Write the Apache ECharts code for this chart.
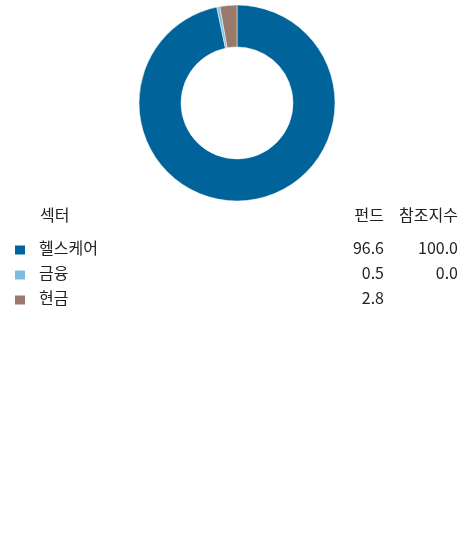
<!DOCTYPE html>
<html>
<head>
<meta charset="utf-8">
<script src="https://cdn.jsdelivr.net/npm/echarts@6/dist/echarts.min.js"></script>
<style>
  html, body { margin: 0; padding: 0; background: #fff; }
  #chart { width: 476px; height: 542px; }
</style>
</head>
<body>
<div id="chart"></div>
<script>
// Sector allocation: fund vs. reference index
const sectors = ['헬스케어', '금융', '현금'];
const fundWeights = [96.6, 0.5, 2.8];
const indexWeights = [100.0, 0.0, null];
const sectorColors = ['#00639a', '#7dbde0', '#98796a'];
const headers = ['섹터', '펀드', '참조지수'];

const FONT = "'Noto Sans CJK KR', 'Noto Sans', sans-serif";
const TEXT = '#222';
const FS = 16;

const fmt = v => (v === null || v === undefined) ? '' : v.toFixed(1);

const cell = extra => Object.assign({
  fontFamily: FONT, fontSize: FS, color: TEXT, lineHeight: 17, padding: [0, 0, 4, 0]
}, extra);

const chart = echarts.init(document.getElementById('chart'), null, { renderer: 'canvas' });

chart.setOption({
  animation: false,
  color: sectorColors,
  legend: {
    orient: 'vertical',
    left: 15,
    top: 240,
    padding: 0,
    itemWidth: 10,
    itemHeight: 9,
    itemGap: 5,
    icon: 'rect',
    selectedMode: false,
    itemStyle: { borderWidth: 0 },
    data: sectors,
    formatter: name => {
      const i = sectors.indexOf(name);
      return '{g| }{n|' + name + '}{f|' + fmt(fundWeights[i]) + '}{x|' + fmt(indexWeights[i]) + '}';
    },
    textStyle: {
      fontFamily: FONT,
      fontSize: FS,
      color: TEXT,
      rich: {
        g: cell({ width: 9 }),
        n: cell({ width: 290 }),
        f: cell({ width: 55, align: 'right' }),
        x: cell({ width: 74, align: 'right' })
      }
    }
  },
  graphic: [
    { type: 'text', left: 40, top: 207, style: { text: headers[0], font: FS + 'px ' + FONT, fill: TEXT } },
    { type: 'text', right: 476 - 384, top: 207, style: { text: headers[1], font: FS + 'px ' + FONT, fill: TEXT } },
    { type: 'text', right: 476 - 458, top: 207, style: { text: headers[2], font: FS + 'px ' + FONT, fill: TEXT } }
  ],
  series: [{
    type: 'pie',
    center: [237, 103],
    radius: [56, 98],
    startAngle: 90,
    clockwise: true,
    label: { show: false },
    labelLine: { show: false },
    emphasis: { disabled: true },
    itemStyle: { borderColor: '#fff', borderWidth: 0.5 },
    data: sectors.map((s, i) => ({ name: s, value: fundWeights[i] }))
  }]
});
</script>
</body>
</html>
